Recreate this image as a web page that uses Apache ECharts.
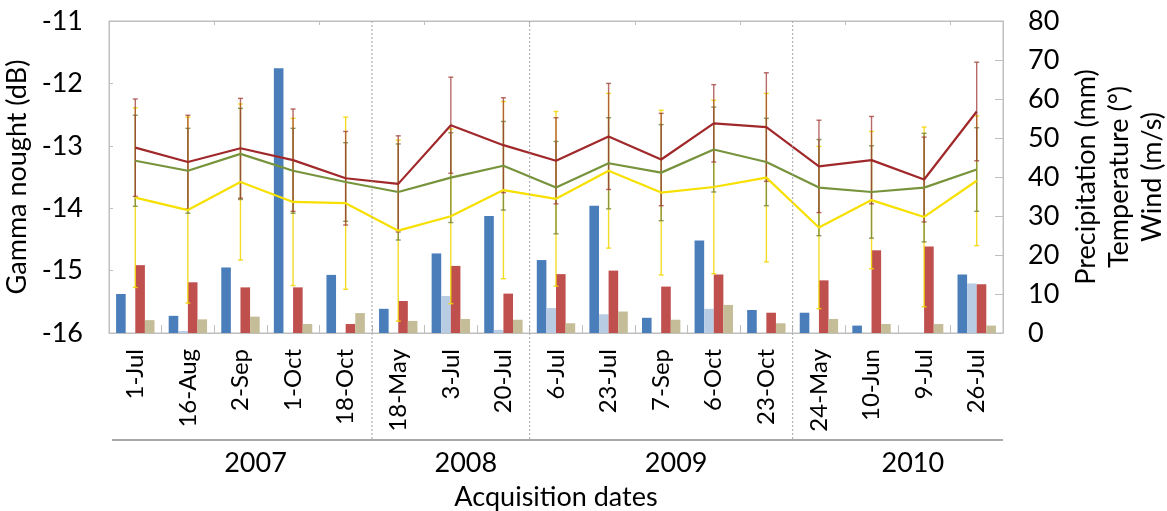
<!DOCTYPE html>
<html>
<head>
<meta charset="utf-8">
<script src="https://cdn.jsdelivr.net/npm/echarts@6/dist/echarts.min.js"></script>
<style>
html,body{margin:0;padding:0;background:#fff;}
#chart{width:1167px;height:511px;}
</style>
</head>
<body>
<div id="chart"></div>
<script>
// ---- data ----
const categories = ['1-Jul','16-Aug','2-Sep','1-Oct','18-Oct','18-May','3-Jul','20-Jul','6-Jul','23-Jul','7-Sep','6-Oct','23-Oct','24-May','10-Jun','9-Jul','26-Jul'];
const yearLabels = ['2007','2008','2009','2010'];
const yearCounts = [5, 3, 5, 4];

// bars (right axis)
const barBlue  = [10.0, 4.4, 16.8, 67.9, 14.9, 6.2, 20.4, 30.0, 18.7, 32.6, 3.9, 23.7, 5.9, 5.2, 1.9, 0, 15.0];
const barLight = [0, 0.5, 0, 0, 0, 0, 9.5, 0.8, 6.4, 4.8, 0, 6.2, 0, 0, 0, 0, 12.7];
const barRed   = [17.4, 13.0, 11.7, 11.7, 2.3, 8.2, 17.2, 10.1, 15.1, 16.0, 11.9, 15.0, 5.2, 13.5, 21.2, 22.2, 12.5];
const barTan   = [3.3, 3.5, 4.2, 2.3, 5.1, 3.1, 3.6, 3.4, 2.5, 5.5, 3.4, 7.2, 2.5, 3.6, 2.3, 2.3, 1.9];

// lines (left axis) with std deviation
const lineRed    = [-13.03, -13.26, -13.04, -13.23, -13.52, -13.61, -12.67, -12.99, -13.24, -12.85, -13.22, -12.64, -12.70, -13.33, -13.23, -13.54, -12.45];
const stdRed     = [0.78, 0.75, 0.80, 0.82, 0.75, 0.77, 0.77, 0.76, 0.69, 0.85, 0.74, 0.62, 0.87, 0.74, 0.70, 0.68, 0.79];
const lineGreen  = [-13.24, -13.40, -13.13, -13.40, -13.58, -13.74, -13.51, -13.32, -13.67, -13.28, -13.43, -13.06, -13.26, -13.67, -13.74, -13.67, -13.38];
const stdGreen   = [0.73, 0.68, 0.73, 0.68, 0.63, 0.77, 0.72, 0.71, 0.74, 0.73, 0.77, 0.68, 0.70, 0.77, 0.74, 0.87, 0.67];
const lineYellow = [-13.83, -14.03, -13.58, -13.90, -13.92, -14.36, -14.13, -13.71, -13.85, -13.40, -13.75, -13.66, -13.51, -14.31, -13.87, -14.14, -13.56];
const stdYellow  = [1.44, 1.49, 1.25, 1.34, 1.38, 1.45, 1.40, 1.42, 1.40, 1.24, 1.32, 1.39, 1.35, 1.30, 1.10, 1.44, 1.04];

const leftTicks = {min: -16, max: -11, interval: 1};
const rightTicks = {min: 0, max: 80, interval: 10};

// ---- styles ----
const FONT = 'Lato';
const C_BLUE = '#4a7ebb', C_LIGHT = '#b8cce4', C_RED = '#c0504d', C_TAN = '#c4bd97';
const C_LRED = '#a0282a', C_LGREEN = '#77933c', C_LYELLOW = '#f7e000';
const FRAME = '#bfbfbf';

function errData(mean, std){ return mean.map((m,i)=>[i, m-std[i], m+std[i]]); }
function errSeries(mean, std, color, opacity){
  return {
    type:'custom', xAxisIndex:0, yAxisIndex:0, z:4, silent:true,
    data: errData(mean, std),
    encode:{x:0, y:[1,2]},
    renderItem: function(params, api){
      const lo = api.coord([api.value(0), api.value(1)]);
      const hi = api.coord([api.value(0), api.value(2)]);
      const cw = 2.5;
      const st = {stroke: color, lineWidth: 1.4, opacity: opacity};
      return {type:'group', children:[
        {type:'line', shape:{x1:lo[0], y1:lo[1], x2:hi[0], y2:hi[1]}, style:st},
        {type:'line', shape:{x1:lo[0]-cw, y1:lo[1], x2:lo[0]+cw, y2:lo[1]}, style:st},
        {type:'line', shape:{x1:hi[0]-cw, y1:hi[1], x2:hi[0]+cw, y2:hi[1]}, style:st}
      ]};
    }
  };
}
function barSeries(data, color){
  return {type:'bar', xAxisIndex:0, yAxisIndex:1, data:data, barWidth:9.6, barGap:'0%', z:2,
    itemStyle:{color:color}};
}
function lineSeries(data, color){
  return {type:'line', xAxisIndex:0, yAxisIndex:0, data:data, symbol:'none', z:5,
    lineStyle:{color:color, width:2.2}};
}

const chart = echarts.init(document.getElementById('chart'), null, {renderer:'canvas'});
const option = {
  animation:false,
  backgroundColor:'#fff',
  textStyle:{fontFamily:FONT},
  grid:{left:109, right:164, top:21, bottom:178, show:true, borderColor:FRAME, borderWidth:1,
        backgroundColor:'transparent', containLabel:false, outerBoundsMode:'none'},
  xAxis:[
    {type:'category', data:categories, position:'bottom', gridIndex:0,
     axisLine:{show:true, lineStyle:{color:FRAME, width:1}},
     axisTick:{show:true, inside:true, length:8, lineStyle:{color:FRAME}},
     axisLabel:{rotate:90, fontSize:24, color:'#000', margin:16, fontFamily:FONT, interval:0},
     name:'Acquisition dates', nameLocation:'middle', nameGap:151,
     nameTextStyle:{fontSize:27, color:'#000', fontFamily:FONT}},
    {type:'category', data:categories, position:'top', gridIndex:0,
     axisLine:{show:true, lineStyle:{color:FRAME}},
     axisTick:{show:true, inside:true, length:4, lineStyle:{color:FRAME}},
     axisLabel:{show:false}}
  ],
  yAxis:[
    {type:'value', min:leftTicks.min, max:leftTicks.max, interval:leftTicks.interval, position:'left',
     axisLine:{show:true, lineStyle:{color:FRAME}},
     axisTick:{show:true, inside:true, length:4, lineStyle:{color:FRAME}},
     splitLine:{show:false},
     axisLabel:{fontSize:27, color:'#000', margin:26, fontFamily:FONT},
     name:'Gamma nought (dB)', nameLocation:'middle', nameGap:65,
     nameTextStyle:{fontSize:27, color:'#000', fontFamily:FONT}},
    {type:'value', min:rightTicks.min, max:rightTicks.max, interval:rightTicks.interval, position:'right',
     axisLine:{show:true, lineStyle:{color:FRAME}},
     axisTick:{show:true, inside:true, length:8, lineStyle:{color:FRAME}},
     splitLine:{show:false},
     axisLabel:{fontSize:27, color:'#000', margin:25, fontFamily:FONT},
     name:'Precipitation (mm)\nTemperature (°)\nWind (m/s)', nameLocation:'middle', nameGap:56,
     nameTextStyle:{fontSize:27, color:'#000', fontFamily:FONT, lineHeight:33, align:'center'}}
  ],
  series:[
    barSeries(barBlue, C_BLUE),
    barSeries(barLight, C_LIGHT),
    barSeries(barRed, C_RED),
    barSeries(barTan, C_TAN),
    errSeries(lineYellow, stdYellow, '#f2d600', 0.85),
    errSeries(lineGreen, stdGreen, '#7a8a3a', 0.85),
    errSeries(lineRed, stdRed, '#9e3a36', 0.75),
    lineSeries(lineYellow, C_LYELLOW),
    lineSeries(lineGreen, C_LGREEN),
    lineSeries(lineRed, C_LRED)
  ]
};
chart.setOption(option);

// year separators and labels (positions from the category scale)
function px(i){ return chart.convertToPixel({xAxisIndex:0}, i); }
const cw = px(1) - px(0);
const yTop = chart.convertToPixel({yAxisIndex:0}, leftTicks.max);
const yBot = chart.convertToPixel({yAxisIndex:0}, leftTicks.min);
const sepY = yBot + 107;
const graphics = [];
graphics.push({type:'line', z:10, shape:{x1:px(0)-cw/2+3, y1:sepY, x2:px(categories.length-1)+cw/2, y2:sepY},
  style:{stroke:'#8c8c8c', lineWidth:1.5}});
let start = 0;
yearLabels.forEach((yl, k)=>{
  const end = start + yearCounts[k] - 1;
  const cx = (px(start) + px(end))/2 + 15;
  graphics.push({type:'text', z:10, x:cx, y:sepY+23, style:{text:yl, font:'27px '+FONT, fill:'#000', align:'center', verticalAlign:'middle'}});
  if (k > 0){
    const bx = px(start) - cw/2;
    graphics.push({type:'line', z:10, shape:{x1:bx, y1:yTop, x2:bx, y2:sepY},
      style:{stroke:'#a6a6a6', lineWidth:1, lineDash:[2,2]}});
  }
  start = end + 1;
});
chart.setOption({graphic:graphics});
</script>
</body>
</html>
